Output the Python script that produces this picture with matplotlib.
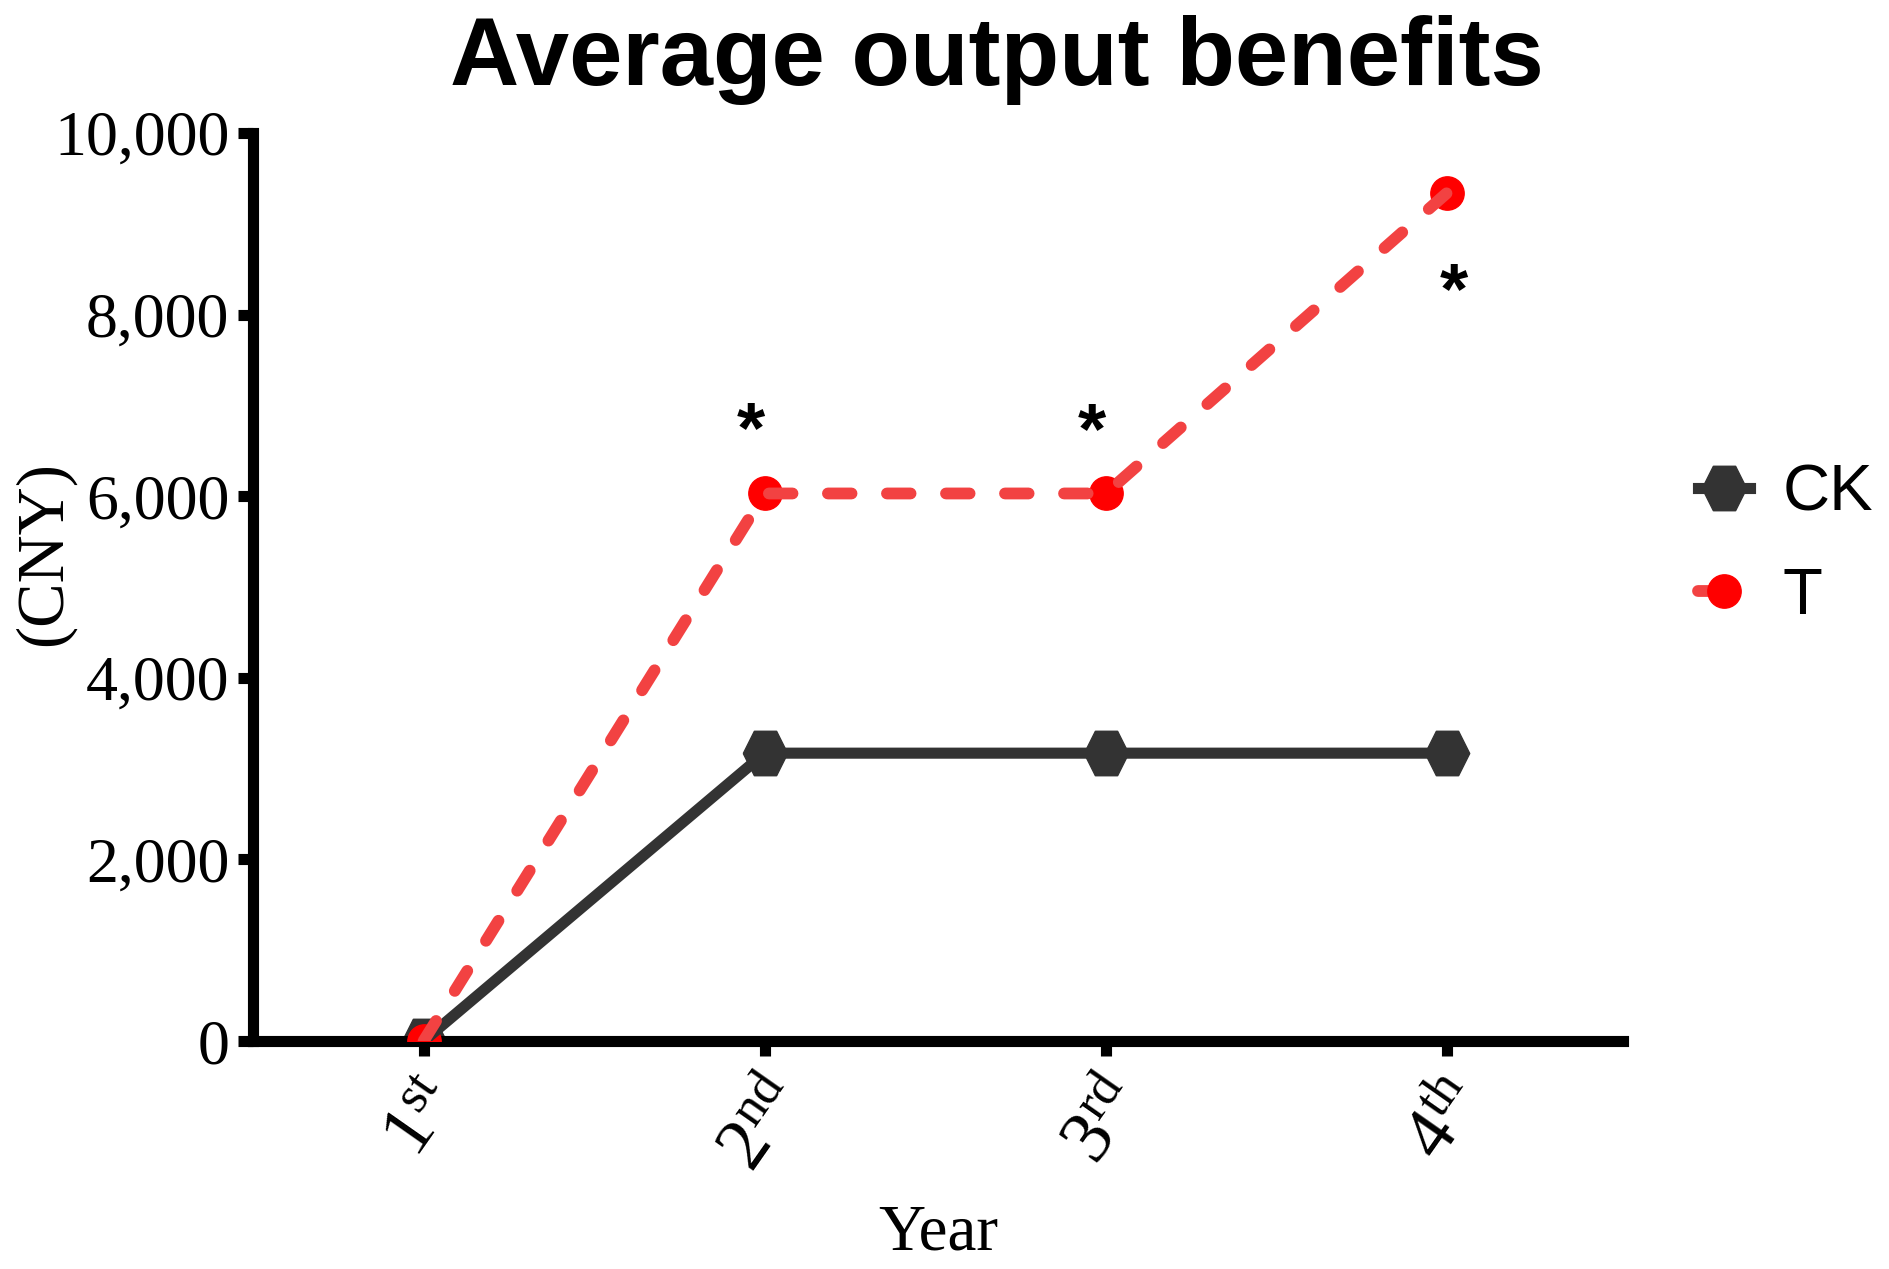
import matplotlib
matplotlib.use('Agg')
import matplotlib.pyplot as plt
from matplotlib.ticker import FuncFormatter
from matplotlib.lines import Line2D

# data
years = ['1st', '2nd', '3rd', '4th']
year_labels = [r'$\mathrm{1^{st}}$', r'$\mathrm{2^{nd}}$', r'$\mathrm{3^{rd}}$', r'$\mathrm{4^{th}}$']
ck_values = [0, 3170, 3170, 3170]
t_values = [0, 6030, 6030, 9340]
y_ticks = [0, 2000, 4000, 6000, 8000, 10000]

# significance marks (x index, y position)
sig_x = [0.96, 1.96, 3.02]
sig_y = [6700, 6680, 8230]

plt.rcParams['font.family'] = ['Liberation Serif', 'DejaVu Serif']
plt.rcParams['mathtext.fontset'] = 'custom'
plt.rcParams['mathtext.rm'] = 'Liberation Serif'
plt.rcParams['mathtext.it'] = 'Liberation Serif:italic'
plt.rcParams['mathtext.bf'] = 'Liberation Serif:bold'

fig = plt.figure(figsize=(18.9, 12.69), dpi=100)
ax = fig.add_axes([253 / 1890, 1 - 1041 / 1269, 1370 / 1890, 908 / 1269])

x = list(range(len(years)))
ck_color = '#333333'
t_line = '#f24242'
t_marker = '#ff0000'

# flat-topped hexagon, about as tall as it is wide
hexagon = [(-1, 0), (-0.5, 1), (0.5, 1), (1, 0), (0.5, -1), (-0.5, -1), (-1, 0)]

# markers first, lines on top (as in the reference)
ax.plot(x, ck_values, linestyle='none', marker=hexagon, markersize=32,
        color=ck_color, zorder=2)
ax.plot(x, t_values, linestyle='none', marker='o', markersize=24,
        color=t_marker, zorder=3)
ax.plot(x, ck_values, color=ck_color, linewidth=8, zorder=4,
        solid_capstyle='round')
ax.plot(x, t_values, color=t_line, linewidth=8.5, dashes=(2, 3),
        dash_capstyle='round', zorder=5)

for sx, sy in zip(sig_x, sig_y):
    ax.text(sx, sy, '*', ha='center', va='center', fontsize=52,
            fontweight='bold', family='Liberation Sans', zorder=6)

ax.set_xlim(-0.5, 3.516)
ax.set_ylim(0, 10000)
ax.set_yticks(y_ticks)
ax.yaxis.set_major_formatter(FuncFormatter(lambda v, p: f'{int(v):,}'))
ax.set_xticks(x)
ax.set_xticklabels(year_labels, rotation=55, ha='center', va='top',
                   fontsize=54)

for side in ['top', 'right']:
    ax.spines[side].set_visible(False)
for side in ['left', 'bottom']:
    ax.spines[side].set_linewidth(8)
    ax.spines[side].set_color('black')
    ax.spines[side].set_capstyle('projecting')

ax.tick_params(axis='both', direction='out', length=10.5, width=8,
               color='black')
ax.tick_params(axis='y', pad=6.5, labelsize=46)
ax.tick_params(axis='x', pad=10)

ax.set_ylabel('(CNY)', fontsize=48)
ax.yaxis.set_label_coords(-0.13, 0.537)
ax.set_xlabel('Year', fontsize=47)
ax.xaxis.set_label_coords(0.5, -0.18)

fig.text(997 / 1890, 1 - 85 / 1269, 'Average output benefits',
         ha='center', va='baseline', fontsize=69, fontweight='bold',
         family='Liberation Sans')

h_ck = Line2D([], [], color=ck_color, linewidth=8, marker=hexagon,
              markersize=32, label='CK')
h_t = Line2D([], [], color=t_line, linewidth=8.5, dashes=(2, 3),
             dash_capstyle='round', marker='o', markersize=24,
             markerfacecolor=t_marker, markeredgecolor=t_marker, label='T')
leg = fig.legend(handles=[h_ck, h_t], loc='center left',
                 bbox_to_anchor=(1698 / 1890, 1 - 545 / 1269),
                 frameon=False, handlelength=0.8, numpoints=1,
                 handletextpad=0.5, labelspacing=0.66, borderpad=0,
                 borderaxespad=0, prop={'family': 'Liberation Sans', 'size': 47})

fig.savefig('out.png', dpi=100)
